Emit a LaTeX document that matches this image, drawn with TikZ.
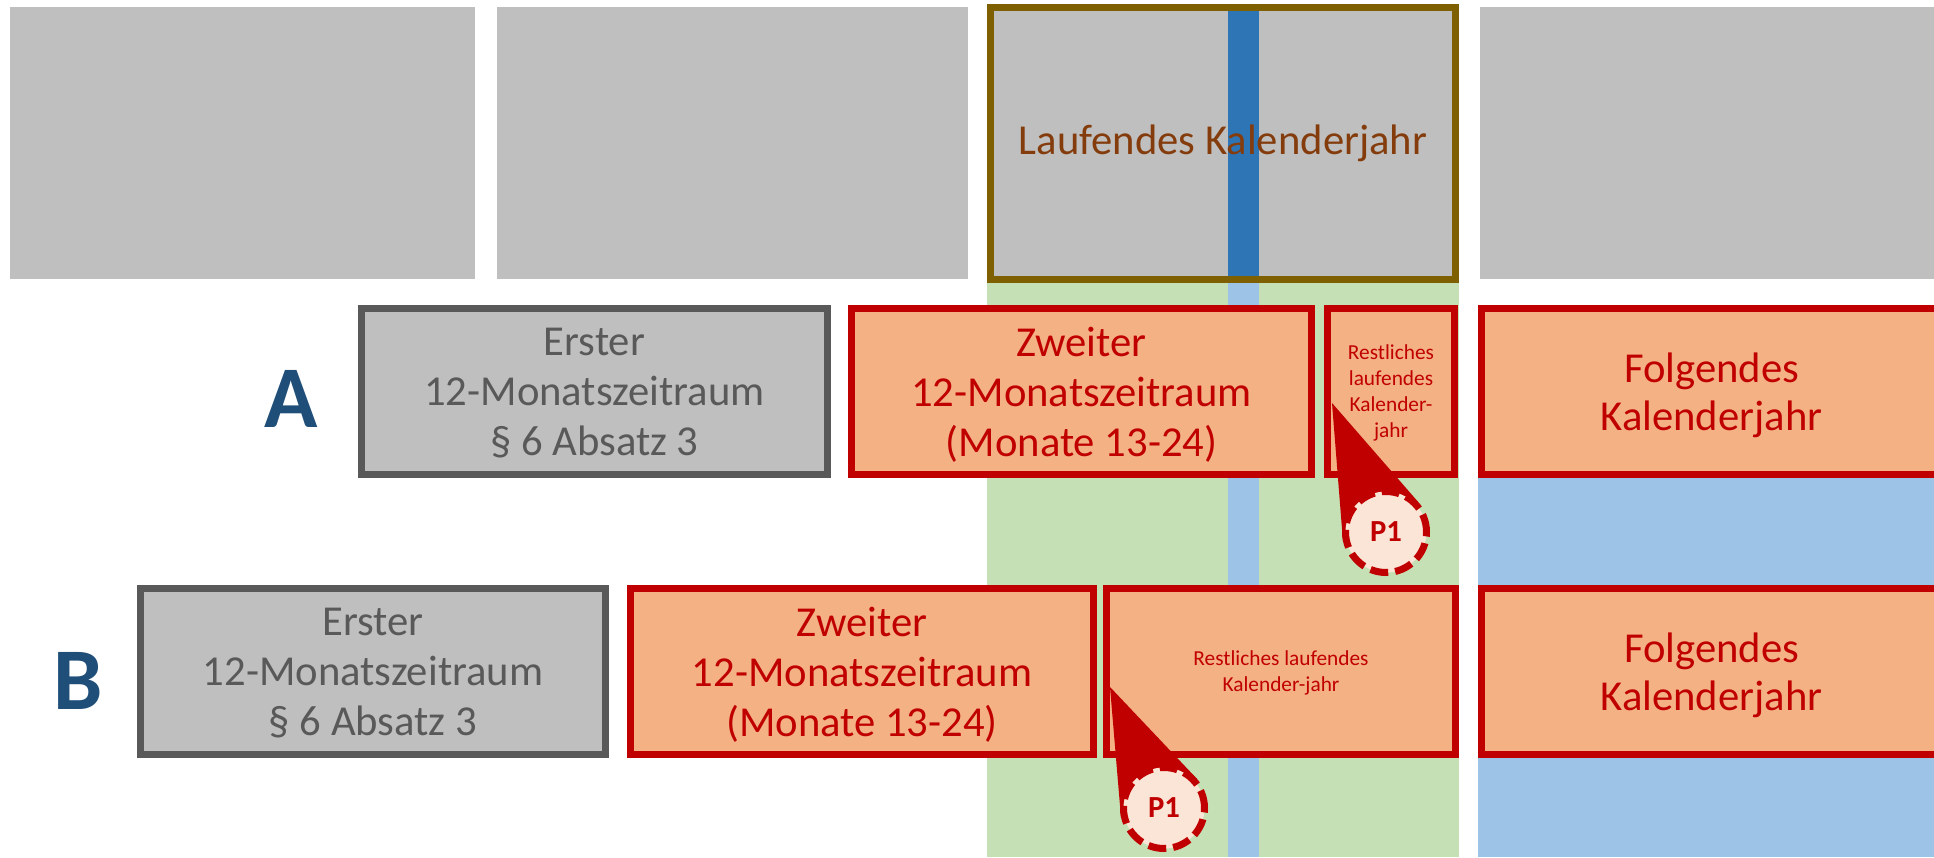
\documentclass[tikz,border=0pt]{standalone}
\usepackage{fontspec}
\setmainfont{Carlito}
\definecolor{cgray}{HTML}{BFBFBF}
\definecolor{cdgray}{HTML}{595959}
\definecolor{cbrown}{HTML}{7F6000}
\definecolor{cbtext}{HTML}{843C0C}
\definecolor{cgreen}{HTML}{C5E0B4}
\definecolor{clblue}{HTML}{9DC3E6}
\definecolor{cdblue}{HTML}{2E75B6}
\definecolor{corange}{HTML}{F4B183}
\definecolor{cred}{HTML}{C00000}
\definecolor{clight}{HTML}{FBE5D6}
\definecolor{cnavy}{HTML}{1F4E79}
\pgfdeclarelayer{back}
\pgfdeclarelayer{mid}
\pgfsetlayers{back,mid,main}
\begin{document}
\begin{tikzpicture}[x=0.75pt,y=-0.75pt,
  sz/.style 2 args={minimum width=#1*0.75pt,minimum height=#2*0.75pt},
  bigfont/.style={font=\fontsize{32}{37.5}\selectfont},
  folgfont/.style={font=\fontsize{32}{36}\selectfont},
  topfill/.style={fill=cgray,inner sep=0pt},
  lkbox/.style={draw=cbrown,line width=5.25pt,inner sep=0pt,text=cbtext,font=\fontsize{32}{38}\selectfont},
  gbox/.style={fill=cgray,draw=cdgray,line width=5.25pt,inner sep=0pt,text depth=0pt,text=cdgray,align=center,bigfont},
  rbox/.style={fill=corange,draw=cred,line width=5.25pt,inner sep=0pt,text depth=0pt,text=cred,align=center,bigfont},
  fbox/.style={rbox,folgfont},
  smallbox/.style={rbox,font=\fontsize{16}{19.5}\selectfont},
  rowlabel/.style={text=cnavy,font=\fontsize{66}{70}\selectfont\bfseries,inner sep=0pt},
  callout/.style={circle,fill=clight,draw=cred,line width=5.25pt,dash pattern=on 13.5pt off 5.25pt,
    text=cred,font=\fontsize{23}{26}\selectfont\bfseries,minimum size=81*0.75pt,inner sep=0pt},
  wedge/.style={fill=cred}]
\clip (0,0) rectangle (1934,857);
\begin{pgfonlayer}{back}
\fill[white] (0,0) rectangle (1934,857);
% backgrounds
\fill[cgreen] (987,283) rectangle (1459,857);
\fill[clblue] (1228,283) rectangle (1259,857);
\fill[clblue] (1478,310) rectangle (1934,857);
% top row
\node[topfill,sz={465}{272}] (g1) at (242.5,143) {};
\node[topfill,sz={471}{272}] (g2) at (732.5,143) {};
\node[topfill,sz={465}{272}] (lkfill) at (1223,143.5) {};
\fill[cdblue] (1228,4) rectangle (1259,283);
\node[lkbox,sz={465}{272}] (lk) at (1223,143.5) {Laufendes Kalenderjahr};
\node[topfill,sz={470}{272}] (g4) at (1715,143) {};
% row A
\node[rowlabel] (la) at (291,399) {A};
\node[gbox,sz={466}{166}] (ea) at (594.5,391.5) {Erster\\12-Monatszeitraum\\§ 6 Absatz 3};
\node[rbox,sz={460}{166}] (za) at (1081.5,391.5) {Zweiter\\12-Monatszeitraum\\(Monate 13-24)};
\node[smallbox,sz={127}{166}] (ra) at (1391,391.5) {Restliches\\laufendes\\Kalender-\\jahr};
\node[fbox,sz={460}{166}] (fa) at (1711.5,391.5) {Folgendes\\Kalenderjahr};
% row B
\node[rowlabel] (lb) at (78,681) {B};
\node[gbox,sz={465}{166}] (eb) at (373,671.5) {Erster\\12-Monatszeitraum\\§ 6 Absatz 3};
\node[rbox,sz={463}{166}] (zb) at (862,671.5) {Zweiter\\12-Monatszeitraum\\(Monate 13-24)};
\node[smallbox,sz={349}{166}] (rb) at (1281,671.5) {Restliches laufendes\\Kalender-jahr};
\node[fbox,sz={460}{166}] (fb) at (1711.5,671.5) {Folgendes\\Kalenderjahr};
\end{pgfonlayer}
% callouts
\coordinate (tipa) at (1332,403);
\coordinate (tipb) at (1110,687);
\node[callout] (p1a) at (1386,532) {P1};
\node[callout] (p1b) at (1164,808) {P1};
\begin{pgfonlayer}{mid}
\fill[wedge] (tipa) -- (p1a.43) -- (p1a.center) -- (p1a.192) -- cycle;
\fill[wedge] (tipb) -- (p1b.41) -- (p1b.center) -- (p1b.192) -- cycle;
\end{pgfonlayer}
\end{tikzpicture}
\end{document}
